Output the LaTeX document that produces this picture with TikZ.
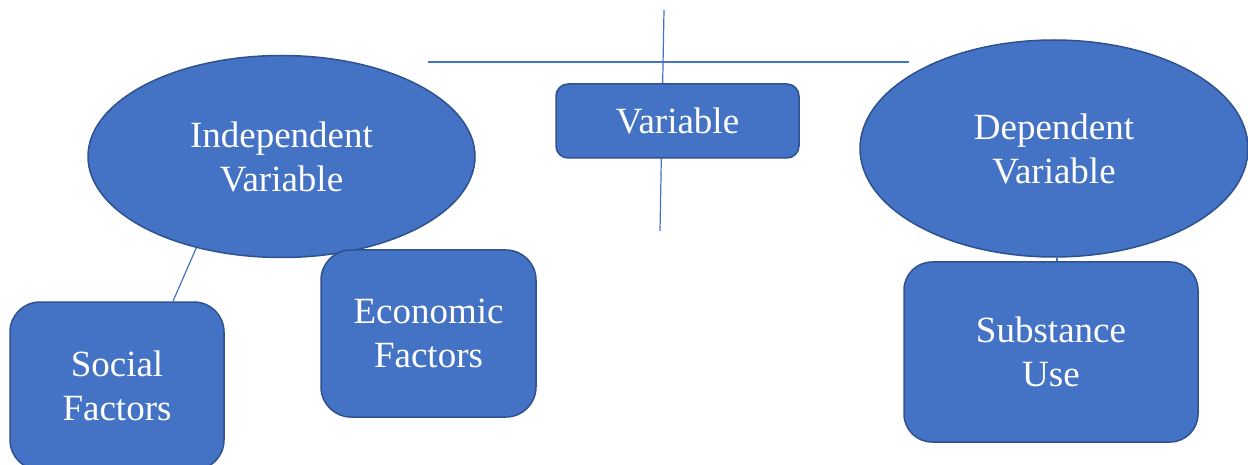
\documentclass[tikz,border=0pt]{standalone}
\usepackage{fontspec}
\setmainfont{Liberation Serif}
\usetikzlibrary{shapes.geometric}
\definecolor{boxblue}{HTML}{4472C4}
\definecolor{edgeblue}{HTML}{2F528F}
\begin{document}
\begin{tikzpicture}[x=1pt,y=-1pt,
    blob/.style={fill=boxblue,draw=edgeblue,line width=1.5pt,text=white,align=center,
        font=\fontsize{37}{44}\selectfont,inner sep=0pt},
    oval/.style={blob,ellipse},
    card/.style={blob,rectangle,rounded corners=#1},
    link/.style={draw=boxblue,line width=1.2pt}]
    \useasboundingbox (0,0) rectangle (1248,465);
    % cross behind the Variable box
    \coordinate (crossL) at (428,62);
    \coordinate (crossR) at (909,62);
    \coordinate (crossT) at (664,10);
    \coordinate (crossB) at (660,231);
    \draw[link] (crossL) -- (crossR);
    \draw[link] (crossT) -- (crossB);
    \node[card=12pt,minimum width=243pt,minimum height=74pt] (var) at (677.5,121) {Variable};
    \node[oval,minimum width=387pt,minimum height=202pt] (indep) at (281.5,156.5) {Independent\\Variable};
    \node[oval,minimum width=388pt,minimum height=217pt] (dep) at (1054,148.5) {Dependent\\Variable};
    \node[card=30pt,minimum width=214pt,minimum height=168pt] (social) at (117,386) {Social\\Factors};
    \node[card=30pt,minimum width=215pt,minimum height=167pt] (econ) at (428.5,333.5) {Economic\\Factors};
    \node[card=28pt,minimum width=294pt,minimum height=180pt] (subst) at (1051,352) {Substance\\Use};
    \draw[link] (indep.227) -- ([xshift=56pt]social.north);
    \draw[link] ([xshift=3pt]dep.south) -- ([xshift=6pt]subst.north);
\end{tikzpicture}
\end{document}
